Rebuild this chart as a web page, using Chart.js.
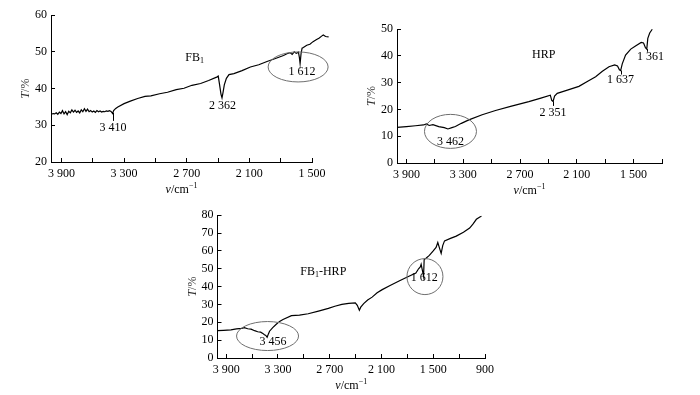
<!DOCTYPE html>
<html>
<head>
<meta charset="utf-8">
<script src="https://cdn.jsdelivr.net/npm/chart.js@4.4.1/dist/chart.umd.min.js"></script>
<style>
  html, body { margin: 0; padding: 0; background: #fff; }
  body { width: 700px; height: 395px; position: relative; overflow: hidden; }
  .box { position: absolute; }
</style>
</head>
<body>
<div class="box" id="b1" style="left:0;top:0;width:345px;height:200px"><canvas id="c1"></canvas></div>
<div class="box" id="b2" style="left:350px;top:0;width:350px;height:200px"><canvas id="c2"></canvas></div>
<div class="box" id="b3" style="left:160px;top:200px;width:340px;height:195px"><canvas id="c3"></canvas></div>
<script>
// FB1 spectrum
const fb1Wave = [3995, 3980, 3965, 3950, 3935, 3920, 3905, 3890, 3875, 3860,
  3845, 3830, 3815, 3800, 3785, 3770, 3755, 3740, 3725, 3710,
  3695, 3680, 3665, 3650, 3635, 3620, 3605, 3590, 3575, 3560,
  3545, 3530, 3515, 3500, 3485, 3470, 3455, 3440, 3425, 3410,
  3400, 3380, 3360, 3300, 3240, 3170, 3100, 3043, 2960, 2884,
  2800, 2726, 2650, 2567, 2490, 2408, 2398, 2385, 2372, 2362,
  2352, 2340, 2320, 2295, 2248, 2170, 2090, 2010, 1931, 1850,
  1773, 1740, 1710, 1690, 1670, 1650, 1630, 1621, 1614, 1605,
  1595, 1583, 1550, 1520, 1490, 1460, 1430, 1408, 1392, 1370,
  1341];
const fb1T = [33.0, 33.2, 33.1, 33.4, 33.0, 33.6, 33.2, 34.0, 33.1, 33.7,
  32.9, 33.8, 33.4, 34.2, 33.6, 34.1, 33.5, 33.9, 33.4, 34.2,
  33.7, 34.5, 33.8, 34.4, 33.7, 34.0, 33.6, 33.9, 33.5, 34.0,
  33.7, 33.9, 33.6, 33.8, 33.7, 33.9, 33.8, 34.0, 33.8, 33.2,
  34.0, 34.6, 35.0, 35.9, 36.6, 37.3, 37.9, 38.0, 38.6, 39.0,
  39.7, 40.1, 40.9, 41.4, 42.2, 43.2, 43.4, 41.0, 38.5, 37.5,
  39.0, 41.0, 42.8, 43.8, 44.1, 44.9, 45.9, 46.5, 47.4, 48.2,
  49.0, 49.5, 49.8, 49.3, 50.0, 49.6, 49.9, 48.5, 46.8, 49.5,
  51.0, 51.2, 51.8, 52.1, 52.8, 53.3, 53.8, 54.3, 54.6, 54.2,
  54.1];

// HRP spectrum
const hrpWave = [4000, 3900, 3805, 3720, 3690, 3660, 3620, 3559, 3500, 3462,
  3420, 3383, 3320, 3241, 3100, 2959, 2800, 2607, 2480, 2380,
  2365, 2351, 2335, 2307, 2200, 2078, 1980, 1901, 1830, 1760,
  1700, 1670, 1650, 1637, 1620, 1585, 1530, 1480, 1420, 1395,
  1375, 1361, 1350, 1330, 1303];
const hrpT = [13.3, 13.6, 13.9, 14.2, 14.6, 14.0, 14.3, 13.6, 13.2, 12.7,
  13.2, 13.6, 14.8, 16.1, 18.0, 19.6, 21.1, 22.9, 24.2, 25.3,
  23.4, 23.0, 25.0, 26.0, 27.2, 28.6, 30.6, 32.2, 34.2, 35.9,
  36.6, 36.2, 34.8, 34.5, 37.0, 40.3, 42.5, 43.7, 45.0, 44.8,
  43.0, 42.5, 46.5, 48.5, 49.9];

// FB1-HRP spectrum
const mixWave = [4000, 3930, 3845, 3780, 3720, 3689, 3650, 3611, 3570, 3534,
  3500, 3475, 3456, 3440, 3425, 3410, 3397, 3360, 3319, 3280,
  3241, 3143, 3050, 2949, 2830, 2715, 2640, 2559, 2480, 2403,
  2380, 2356, 2340, 2306, 2260, 2208, 2150, 2091, 2000, 1896,
  1800, 1701, 1670, 1650, 1640, 1625, 1612, 1605, 1580, 1545,
  1500, 1467, 1447, 1430, 1408, 1390, 1369, 1300, 1233, 1150,
  1078, 1040, 1000, 960, 941];
const mixT = [15.3, 15.5, 15.8, 16.3, 16.6, 17.0, 16.4, 16.2, 15.3, 14.7,
  14.5, 13.8, 13.0, 12.6, 11.6, 13.5, 15.0, 17.0, 18.9, 20.5,
  21.6, 23.7, 24.0, 24.8, 26.3, 27.8, 29.0, 30.0, 30.6, 30.9,
  29.5, 26.8, 28.5, 30.5, 32.5, 34.1, 36.5, 38.3, 40.6, 43.1,
  45.4, 47.6, 50.0, 51.0, 52.5, 49.0, 45.8, 55.2, 56.0, 57.5,
  60.0, 62.0, 64.7, 62.0, 58.6, 63.0, 65.6, 67.0, 68.3, 70.5,
  72.8, 75.0, 77.7, 79.0, 79.4];

// axis ticks (minor every 300, labelled every 600)
const fb1XTicks = [1500, 1800, 2100, 2400, 2700, 3000, 3300, 3600, 3900];
const hrpXTicks = [1200, 1500, 1800, 2100, 2400, 2700, 3000, 3300, 3600, 3900];
const mixXTicks = [900, 1200, 1500, 1800, 2100, 2400, 2700, 3000, 3300, 3600, 3900];

const FONT = '"Liberation Serif", "Times New Roman", serif';

function fmtWave(v) {
  if (v % 600 !== 300) return '';
  return String(v).replace(/\B(?=(\d{3})+$)/, ' ');
}

function fontFor(p, size) {
  const s = (p.sub || p.sup) ? Math.round(size * 0.68) : size;
  return (p.it ? 'italic ' : '') + s + 'px ' + FONT;
}

function drawRich(ctx, parts, cx, cy, size) {
  const widths = parts.map(p => { ctx.font = fontFor(p, size); return ctx.measureText(p.t).width; });
  let xPos = cx - widths.reduce((a, b) => a + b, 0) / 2;
  ctx.textAlign = 'left';
  ctx.textBaseline = 'middle';
  parts.forEach((p, i) => {
    ctx.font = fontFor(p, size);
    const dy = p.sub ? size * 0.3 : p.sup ? -size * 0.35 : 0;
    ctx.fillText(p.t, xPos, cy + dy);
    xPos += widths[i];
  });
}

function notesPlugin(notes) {
  return {
    id: 'notes',
    afterDraw(chart) {
      const { ctx, chartArea: a, scales: { x, y } } = chart;
      ctx.save();
      // y title
      ctx.save();
      ctx.translate(a.left - 25, (a.top + a.bottom) / 2);
      ctx.rotate(-Math.PI / 2);
      ctx.fillStyle = '#333';
      drawRich(ctx, [{ t: 'T', it: true }, { t: '/%' }], 0, 0, 12);
      ctx.restore();
      // x title
      ctx.fillStyle = '#000';
      drawRich(ctx, [{ t: 'v', it: true }, { t: '/cm' }, { t: '\u22121', sup: true }],
        (a.left + a.right) / 2, a.bottom + 28, 12);
      // short marker lines under peaks
      ctx.strokeStyle = '#000';
      ctx.lineWidth = 1;
      (notes.marks || []).forEach(m => {
        const px = Math.round(x.getPixelForValue(m.v)) + 0.5;
        ctx.beginPath();
        ctx.moveTo(px, y.getPixelForValue(m.from));
        ctx.lineTo(px, y.getPixelForValue(m.to));
        ctx.stroke();
      });
      // circled regions
      ctx.strokeStyle = '#6e6e6e';
      (notes.rings || []).forEach(r => {
        ctx.beginPath();
        ctx.ellipse(x.getPixelForValue(r.v), y.getPixelForValue(r.t), r.rx, r.ry, 0, 0, Math.PI * 2);
        ctx.stroke();
      });
      // text labels
      ctx.fillStyle = '#000';
      (notes.labels || []).forEach(l => {
        drawRich(ctx, l.parts, x.getPixelForValue(l.v), y.getPixelForValue(l.t), 12);
      });
      ctx.restore();
    }
  };
}

function spectrum(id, box, wave, trans, xr, xTicks, yr, notes) {
  const axisFont = { family: FONT, size: 12 };
  return new Chart(document.getElementById(id), {
    type: 'line',
    data: {
      datasets: [{
        data: wave.map((v, i) => ({ x: v, y: trans[i] })),
        borderColor: '#000', borderWidth: 1.2, pointRadius: 0, tension: 0, fill: false, clip: false,
      }],
    },
    options: {
      responsive: true, maintainAspectRatio: false, animation: false,
      layout: { padding: { top: box.top, right: box.right, left: 0, bottom: 0 } },
      plugins: { legend: { display: false }, tooltip: { enabled: false } },
      scales: {
        x: {
          type: 'linear', reverse: true, min: xr[0], max: xr[1],
          afterBuildTicks: s => { s.ticks = xTicks.map(v => ({ value: v })); },
          afterFit: s => { s.height = box.xh; },
          ticks: { color: '#000', font: axisFont, padding: 9, maxRotation: 0, autoSkip: false, callback: v => fmtWave(v) },
          grid: { drawOnChartArea: false, drawTicks: true, tickLength: -4, color: '#000' },
          border: { display: true, color: '#000', width: 1 },
        },
        y: {
          min: yr[0], max: yr[1],
          afterFit: s => { s.width = box.yw; },
          ticks: { color: '#000', font: axisFont, padding: 8, stepSize: 10 },
          grid: { drawOnChartArea: false, drawTicks: true, tickLength: -4, color: '#000' },
          border: { display: true, color: '#000', width: 1 },
        },
      },
    },
    plugins: [notesPlugin(notes)],
  });
}

spectrum('c1', { top: 12, right: 33, xh: 38, yw: 51 }, fb1Wave, fb1T, [1500, 4000], fb1XTicks, [20, 60], {
  labels: [
    { v: 2624, t: 48.5, parts: [{ t: 'FB' }, { t: '1', sub: true }] },
    { v: 3405, t: 29.4, parts: [{ t: '3 410' }] },
    { v: 2357, t: 35.3, parts: [{ t: '2 362' }] },
    { v: 1595, t: 44.5, parts: [{ t: '1 612' }] },
  ],
  rings: [{ v: 1633, t: 45.9, rx: 30, ry: 15 }],
  marks: [{ v: 3410, from: 33.4, to: 31.2 }],
});

spectrum('c2', { top: 29, right: 38, xh: 37, yw: 47 }, hrpWave, hrpT, [1200, 4000], hrpXTicks, [0, 50], {
  labels: [
    { v: 2449, t: 40.3, parts: [{ t: 'HRP' }] },
    { v: 2353, t: 18.6, parts: [{ t: '2 351' }] },
    { v: 1638, t: 31.0, parts: [{ t: '1 637' }] },
    { v: 1321, t: 39.7, parts: [{ t: '1 361' }] },
    { v: 3435, t: 8.0, parts: [{ t: '3 462' }] },
  ],
  rings: [{ v: 3435, t: 11.8, rx: 26, ry: 17 }],
  marks: [
    { v: 2351, from: 23.0, to: 21.3 },
    { v: 1637, from: 34.5, to: 33.0 },
    { v: 1361, from: 42.5, to: 41.5 },
  ],
});

spectrum('c3', { top: 10, right: 15, xh: 37, yw: 57.5 }, mixWave, mixT, [900, 4000], mixXTicks, [0, 80], {
  labels: [
    { v: 2774, t: 48.5, parts: [{ t: 'FB' }, { t: '1', sub: true }, { t: '-HRP' }] },
    { v: 3358, t: 9.0, parts: [{ t: '3 456' }] },
    { v: 1604, t: 44.9, parts: [{ t: '1 612' }] },
  ],
  rings: [
    { v: 3420, t: 12.3, rx: 31, ry: 14.5 },
    { v: 1596, t: 45.6, rx: 18, ry: 18 },
  ],
});
</script>
</body>
</html>
